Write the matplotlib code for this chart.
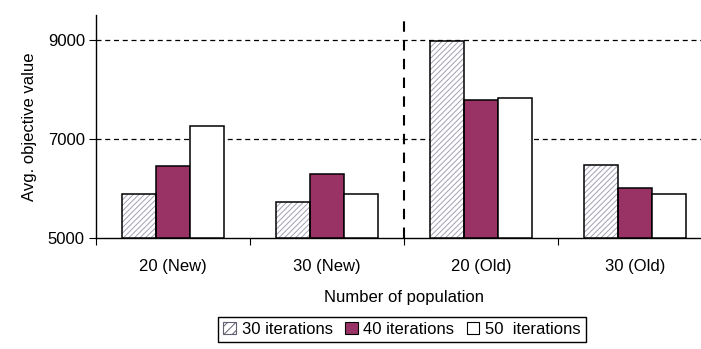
import numpy as np
import matplotlib
matplotlib.use("Agg")
from matplotlib import pyplot as plt
from matplotlib.patches import Patch

plt.rcParams['font.family'] = ['Liberation Sans', 'DejaVu Sans']
plt.rcParams['hatch.linewidth'] = 0.7

# average objective value per population setting
groups = ['20 (New)', '30 (New)', '20 (Old)', '30 (Old)']
iter30 = [5890, 5730, 8980, 6475]
iter40 = [6455, 6290, 7790, 6010]
iter50 = [7265, 5890, 7830, 5890]
series_labels = ['30 iterations', '40 iterations', '50  iterations']

fig = plt.figure(figsize=(7.01, 3.49), dpi=100)
ax = fig.add_axes([96/701, 1 - 238/349, 616/701, 223/349])

x = np.arange(len(groups)) + 0.5
w = 0.22
# hatched bars: grey hatch first, then a black outline on top
ax.bar(x - w, np.array(iter30) - 5000, w, bottom=5000, color='white',
       edgecolor='#a0a0b4', linewidth=0, hatch='//////', zorder=3)
ax.bar(x - w, np.array(iter30) - 5000, w, bottom=5000, fill=False,
       edgecolor='black', linewidth=1.1, zorder=4)
ax.bar(x, np.array(iter40) - 5000, w, bottom=5000, color='#993366',
       edgecolor='black', linewidth=1.1, zorder=3)
ax.bar(x + w, np.array(iter50) - 5000, w, bottom=5000, color='white',
       edgecolor='black', linewidth=1.1, zorder=3)

# dashed gridlines and the New/Old separator
for yv in [7000, 9000]:
    ax.axhline(yv, color='black', linestyle=(0, (4, 3)), linewidth=0.9, zorder=1)
ax.axvline(2, color='black', linestyle=(0, (5, 4)), linewidth=1.5, zorder=2)

ax.set_xlim(0, 4)
ax.set_ylim(5000, 9500)
ax.set_yticks([5000, 7000, 9000])
ax.set_xticks([0, 1, 2, 3, 4])
ax.set_xticks(x, minor=True)
ax.set_xticklabels([])
ax.set_xticklabels(groups, minor=True)
ax.tick_params(axis='x', which='minor', length=0, pad=15, labelsize=12)
ax.tick_params(axis='x', which='major', length=5, direction='out')
ax.tick_params(axis='y', length=5, direction='out', labelsize=12, pad=3)

for s in ['top', 'right']:
    ax.spines[s].set_visible(False)
ax.spines['left'].set_linewidth(1.0)
ax.spines['bottom'].set_linewidth(1.0)

ax.set_ylabel('Avg. objective value', fontsize=12)
ax.yaxis.set_label_coords(-59/616, 0.5)
ax.set_xlabel('Number of population', fontsize=12)
ax.xaxis.set_label_coords(0.5, -52/223)

# legend handles
handles = [Patch(facecolor='white', edgecolor='#606070', hatch='////', linewidth=0.8),
           Patch(facecolor='#993366', edgecolor='black', linewidth=0.8),
           Patch(facecolor='white', edgecolor='black', linewidth=0.8)]
leg = fig.legend(handles, series_labels, loc='center',
                 bbox_to_anchor=(402/701, 1 - 329/349), ncol=3,
                 fontsize=12, handlelength=0.75, handleheight=0.75,
                 handletextpad=0.35, columnspacing=0.75, borderpad=0.3,
                 fancybox=False, edgecolor='black', framealpha=1)
leg.get_frame().set_linewidth(1.0)

plt.savefig('out.png', dpi=100)
